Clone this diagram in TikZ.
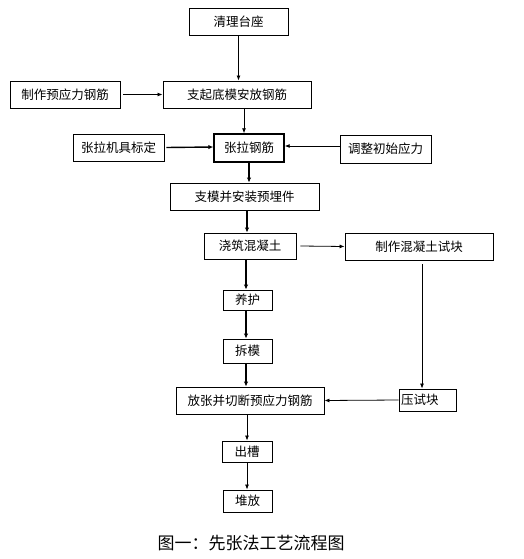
\documentclass[tikz,border=0pt]{standalone}
\usepackage{fontspec}
\newfontfamily\cjk{Noto Sans CJK SC}
\usetikzlibrary{arrows.meta,calc}
\begin{document}
\begin{tikzpicture}[x=1pt,y=-1pt,
  box/.style={draw, line width=0.9pt, inner sep=0pt, font=\cjk\fontsize{12.5}{14}\selectfont},
  arr/.style={-{Latex[length=5pt,width=4pt]}, line width=0.8pt},
  thk/.style={-{Latex[length=5pt,width=4.5pt]}, line width=1.4pt}]
\useasboundingbox (0,0) rectangle (523,559);
\node[box, minimum width=99pt, minimum height=27pt] (qingli) at (238.5,21.5) {清理台座};
\node[box, minimum width=110pt, minimum height=27pt] (yuying) at (65,94.5) {制作预应力钢筋};
\node[box, minimum width=148pt, minimum height=27pt] (zhiqi) at (237,94.5) {支起底模安放钢筋};
\node[box, minimum width=91pt, minimum height=27pt] (biaoding) at (118.5,147.5) {张拉机具标定};
\node[box, line width=1.4pt, minimum width=70pt, minimum height=28pt] (zhangla) at (249,148) {张拉钢筋};
\node[box, minimum width=91pt, minimum height=28pt] (tiaozheng) at (385.5,149) {调整初始应力};
\node[box, minimum width=149pt, minimum height=27pt] (zhimo) at (244.5,196.5) {支模并安装预埋件};
\node[box, minimum width=92pt, minimum height=26pt] (jiaozhu) at (250,246) {浇筑混凝土};
\node[box, minimum width=148pt, minimum height=27pt] (shikuai) at (419,246.5) {制作混凝土试块};
\node[box, minimum width=49pt, minimum height=20pt] (yanghu) at (247.5,300) {养护};
\node[box, minimum width=49pt, minimum height=24pt] (chaimo) at (247.5,351) {拆模};
\node[box, minimum width=148pt, minimum height=27pt] (fangzhang) at (250,400.5) {放张并切断预应力钢筋};
\node[box, minimum width=57pt, minimum height=22pt, text width=53pt, align=left] (yashi) at (427.5,400) {压试块};
\node[box, minimum width=50pt, minimum height=21pt] (chucao) at (247,451.5) {出槽};
\node[box, minimum width=49pt, minimum height=22pt] (duifang) at (247.5,501) {堆放};
\node[font=\cjk\fontsize{17}{20}\selectfont, inner sep=0pt] (caption) at (251,543) {图一：先张法工艺流程图};
% connectors
\draw[arr] (qingli.south) -- (zhiqi.north -| qingli.south);
\draw[arr] (yuying.east) ++(3,0) -- (zhiqi.west);
\draw[arr] (zhiqi.south -| 244,0) -- (zhangla.north -| 244,0);
\draw[thk] (biaoding.east) ++(2,0) -- (zhangla.west |- 0,147);
\draw[arr] (tiaozheng.west |- 0,146) -- (zhangla.east |- 0,146);
\draw[thk] (zhangla.south) -- (zhimo.north -| zhangla.south);
\draw[thk] (zhimo.south -| 247,0) -- (jiaozhu.north -| 247,0);
\draw[arr] (jiaozhu.east) ++(4,0) -- (shikuai.west);
\draw[thk] (jiaozhu.south -| 246,0) -- (yanghu.north -| 246,0);
\draw[thk] (yanghu.south -| 246,0) -- (chaimo.north -| 246,0);
\draw[thk] (chaimo.south -| 246,0) -- (fangzhang.north -| 246,0);
\draw[arr] (shikuai.south -| 422,0) ++(0,4) -- (yashi.north -| 422,0);
\draw[arr] (yashi.west) -- (fangzhang.east);
\draw[arr] (fangzhang.south -| 247,0) -- (chucao.north -| 247,0);
\draw[arr] (chucao.south -| 247,0) -- (duifang.north -| 247,0);
\end{tikzpicture}
\end{document}
